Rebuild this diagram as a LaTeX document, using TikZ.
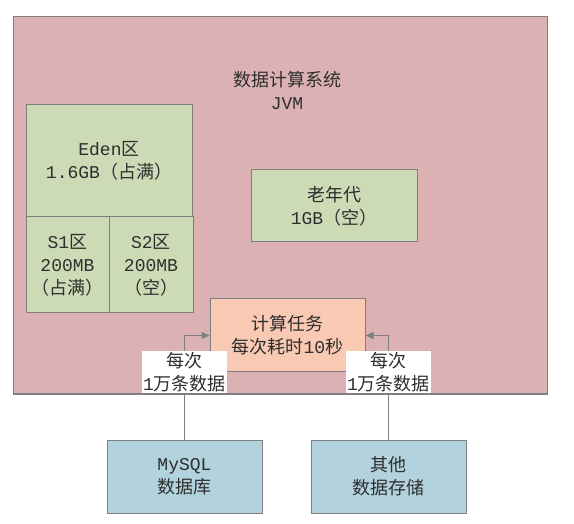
\documentclass[tikz,border=0pt]{standalone}
\usepackage{fontspec}
\setmainfont{Liberation Mono}
\newfontfamily\cjk{Noto Sans CJK SC}
\usetikzlibrary{arrows.meta}
\definecolor{jvmpink}{HTML}{DBB1B3}
\definecolor{memgreen}{HTML}{CDDAB6}
\definecolor{taskorange}{HTML}{F9C9B3}
\definecolor{storeblue}{HTML}{B2D3DE}
\definecolor{edgegray}{HTML}{7F7F7F}
\definecolor{textgray}{HTML}{2E2E2E}
\tikzset{
  box/.style={draw=edgegray, line width=1pt, text=textgray, align=center,
    inner sep=0pt, font=\fontsize{18pt}{23pt}\selectfont},
  membox/.style={box, fill=memgreen},
  storebox/.style={box, fill=storeblue},
  feed/.style={draw=edgegray, line width=1pt, -{Triangle[length=8pt,width=7pt]}},
  feedlabel/.style={fill=white, text=textgray, align=center, inner sep=1pt,
    font=\fontsize{18pt}{23pt}\selectfont}
}
\begin{document}
\begin{tikzpicture}[x=1pt,y=-1pt]
\useasboundingbox (0,0) rectangle (574,524);
\node [box, fill=jvmpink, minimum width=534pt, minimum height=377pt] (jvm) at (280,205.5) {};
\node [text=textgray, align=center, font=\fontsize{18pt}{23pt}\selectfont] (title) at (287,90.5) {{\cjk 数据计算系统}\\JVM};
\node [membox, minimum width=166pt, minimum height=112pt] (eden) at (109,161) {Eden{\cjk 区}\\1.6GB{\cjk （占满）}};
\node [membox, minimum width=83pt, minimum height=96pt] (s1) at (67.5,265) {S1{\cjk 区}\\200MB\\{\cjk （占满）}};
\node [membox, minimum width=84pt, minimum height=96pt] (s2) at (151,265) {S2{\cjk 区}\\200MB\\{\cjk （空）}};
\node [membox, minimum width=166pt, minimum height=72pt] (old) at (334,206) {{\cjk 老年代}\\1GB{\cjk （空）}};
\node [box, fill=taskorange, minimum width=155pt, minimum height=73pt] (task) at (287.5,335.5) {{\cjk 计算任务}\\{\cjk 每次耗时}10{\cjk 秒}};
\node [storebox, minimum width=155pt, minimum height=73pt] (mysql) at (184.5,476.5) {MySQL\\{\cjk 数据库}};
\node [storebox, minimum width=155pt, minimum height=73pt] (other) at (388.5,476.5) {{\cjk 其他}\\{\cjk 数据存储}};
\draw [feed] (mysql.north) -- node [feedlabel, pos=0.65] {{\cjk 每次}\\1{\cjk 万条数据}} (mysql.north |- task.west) -- (task.west);
\draw [feed] (other.north) -- node [feedlabel, pos=0.65] {{\cjk 每次}\\1{\cjk 万条数据}} (other.north |- task.east) -- (task.east);
\end{tikzpicture}
\end{document}
